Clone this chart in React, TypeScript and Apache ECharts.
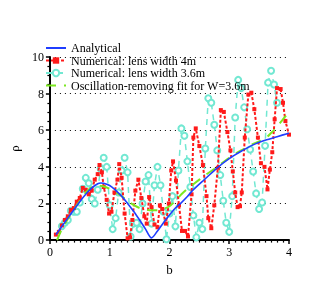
import React, { useEffect, useRef } from "react";
import * as echarts from "echarts";

const xTicks = [0, 1, 2, 3, 4];
const yTicks = [0, 2, 4, 6, 8, 10];

const analyticalB = [0.1, 0.2, 0.3, 0.4, 0.5, 0.6, 0.7, 0.8, 0.85, 0.9, 1.0, 1.1, 1.2, 1.3, 1.4, 1.5, 1.6, 1.7, 1.8, 1.9, 2.0, 2.1, 2.2, 2.3, 2.4, 2.6, 2.8, 3.0, 3.2, 3.4, 3.6, 3.8, 4.0];
const analyticalRho = [0.3, 0.75, 1.2, 1.65, 2.1, 2.5, 2.85, 3.08, 3.12, 3.1, 2.98, 2.72, 2.4, 2.0, 1.58, 1.1, 0.6, 0.12, 0.5, 0.95, 1.37, 1.75, 2.05, 2.38, 2.75, 3.35, 3.95, 4.45, 4.85, 5.2, 5.45, 5.65, 5.84];

const num4B = [0.1, 0.15, 0.2, 0.25, 0.3, 0.35, 0.4, 0.45, 0.5, 0.55, 0.6, 0.65, 0.7, 0.75, 0.8, 0.83, 0.87, 0.9, 0.95, 0.99, 1.03, 1.08, 1.13, 1.16, 1.2, 1.25, 1.3, 1.34, 1.38, 1.43, 1.48, 1.53, 1.58, 1.62, 1.66, 1.7, 1.75, 1.8, 1.84, 1.88, 1.94, 1.99, 2.03, 2.06, 2.11, 2.16, 2.21, 2.26, 2.31, 2.37, 2.4, 2.44, 2.5, 2.56, 2.62, 2.65, 2.7, 2.75, 2.81, 2.86, 2.91, 2.97, 3.02, 3.06, 3.1, 3.14, 3.18, 3.21, 3.26, 3.32, 3.37, 3.42, 3.48, 3.53, 3.59, 3.64, 3.68, 3.72, 3.76, 3.8, 3.86, 3.9, 3.94, 4.0];
const num4Rho = [0.3, 0.45, 0.8, 1.1, 1.3, 1.65, 1.75, 2.1, 2.3, 2.85, 2.75, 2.5, 2.7, 3.3, 3.6, 4.1, 3.7, 2.9, 2.2, 1.45, 1.55, 2.6, 3.3, 4.15, 3.4, 1.45, 0.1, 0.15, 1.1, 2.7, 3.3, 2.3, 1.3, 0.9, 2.35, 1.8, 0.85, 0.7, 1.9, 1.7, 0.9, 2.0, 3.8, 4.3, 3.25, 1.9, 0.5, 0.5, 0.2, 2.5, 5.6, 6.1, 5.14, 4.1, 2.4, 1.2, 0.65, 1.9, 3.95, 7.1, 7.0, 5.9, 4.9, 3.75, 2.6, 1.8, 1.85, 2.6, 5.6, 7.95, 8.05, 7.15, 5.6, 4.2, 4.0, 2.77, 3.85, 4.8, 6.6, 8.3, 8.25, 7.5, 6.5, 5.76];

const num36B = [0.2, 0.25, 0.3, 0.35, 0.4, 0.45, 0.5, 0.55, 0.6, 0.65, 0.7, 0.75, 0.8, 0.85, 0.9, 0.95, 1.0, 1.05, 1.1, 1.15, 1.2, 1.25, 1.3, 1.35, 1.4, 1.45, 1.5, 1.55, 1.6, 1.65, 1.7, 1.75, 1.8, 1.85, 1.9, 1.95, 2.0, 2.05, 2.1, 2.15, 2.2, 2.25, 2.3, 2.35, 2.4, 2.45, 2.5, 2.55, 2.6, 2.65, 2.7, 2.75, 2.8, 2.85, 2.9, 2.95, 3.0, 3.05, 3.1, 3.15, 3.2, 3.25, 3.3, 3.35, 3.4, 3.45, 3.5, 3.55, 3.6, 3.65, 3.7, 3.75, 3.8];
const num36Rho = [0.76, 0.95, 1.1, 1.6, 1.55, 1.55, 2.05, 2.8, 3.4, 3.1, 2.25, 2.0, 2.75, 3.9, 4.5, 4.0, 1.9, 0.6, 1.2, 2.6, 3.8, 4.5, 3.7, 0.2, 0.9, 0.95, 0.6, 2.0, 3.2, 3.55, 0.9, 3.0, 4.0, 3.0, 1.55, 0.05, 1.45, 2.4, 0.75, 3.8, 6.1, 5.7, 4.3, 2.9, 1.35, 0.15, 0.95, 0.6, 5.0, 7.75, 7.5, 6.3, 4.9, 3.55, 2.15, 0.95, 0.45, 2.4, 6.7, 8.75, 8.3, 7.25, 6.05, 4.95, 3.75, 2.55, 1.7, 2.05, 5.15, 8.6, 9.25, 8.5, 7.5];

const fitB = [0.12, 0.2, 0.3, 0.4, 0.5, 0.6, 0.7, 0.8, 0.9, 1.0, 1.1, 1.2, 1.3, 1.4, 1.5, 1.6, 1.7, 1.8, 1.9, 2.0, 2.1, 2.2, 2.3, 2.4, 2.6, 2.8, 3.0, 3.2, 3.4, 3.6, 3.7, 3.8, 3.9, 3.95];
const fitRho = [0.0, 0.6, 1.15, 1.65, 2.15, 2.6, 2.9, 2.97, 2.93, 2.8, 2.62, 2.4, 2.15, 1.92, 1.75, 1.68, 1.63, 1.63, 1.7, 1.85, 2.15, 2.5, 2.8, 3.05, 3.55, 4.0, 4.5, 4.9, 5.25, 5.55, 5.85, 6.2, 6.6, 6.8];

const zip = (xs: number[], ys: number[]) => xs.map((x, i) => [x, ys[i]]);

const FONT = "Liberation Serif";

export default function App() {
  const ref = useRef<HTMLDivElement>(null);
  useEffect(() => {
    if (!ref.current) return;
    const chart = echarts.init(ref.current, undefined, { renderer: "svg" });
    chart.setOption({
      animation: false,
      textStyle: { fontFamily: FONT },
      grid: { left: 41, right: 44, top: 57, bottom: 33 },
      legend: {
        orient: "vertical",
        left: 45,
        top: 42,
        itemWidth: 20,
        itemHeight: 8,
        itemGap: 0.5,
        padding: 0,
        textStyle: { fontFamily: FONT, fontSize: 12, color: "#000", lineHeight: 12 },
        data: [
          { name: "Analytical", itemStyle: { opacity: 0 } },
          { name: "Numerical: lens width 4m" },
          { name: "Numerical: lens width 3.6m" },
          { name: "Oscillation-removing fit for W=3.6m", itemStyle: { opacity: 0 } },
        ],
      },
      xAxis: {
        type: "value",
        min: xTicks[0],
        max: xTicks[xTicks.length - 1],
        interval: 1,
        name: "b",
        nameLocation: "middle",
        nameGap: 20,
        nameTextStyle: { fontFamily: FONT, fontSize: 13, color: "#000" },
        axisLine: { lineStyle: { color: "#000", width: 2 } },
        axisTick: { inside: false, length: 4, lineStyle: { color: "#000", width: 1.5 } },
        minorTick: { show: true, splitNumber: 10, length: 2.5, lineStyle: { color: "#000", width: 1.2 } },
        axisLabel: { fontFamily: FONT, fontSize: 12, color: "#000", margin: 6 },
        splitLine: { show: false },
      },
      yAxis: {
        type: "value",
        min: yTicks[0],
        max: yTicks[yTicks.length - 1],
        interval: 2,
        name: "ρ",
        nameLocation: "middle",
        nameGap: 28,
        nameTextStyle: { fontFamily: FONT, fontSize: 13, color: "#000" },
        axisLine: { show: true, lineStyle: { color: "#000", width: 2 } },
        axisTick: { show: true, inside: false, length: 4, lineStyle: { color: "#000", width: 1.5 } },
        minorTick: { show: true, splitNumber: 4, length: 2.5, lineStyle: { color: "#000", width: 1.2 } },
        axisLabel: { fontFamily: FONT, fontSize: 12, color: "#000", margin: 6 },
        splitLine: { show: true, lineStyle: { color: "#000", type: [1, 4], width: 1 } },
      },
      series: [
        {
          name: "Analytical",
          type: "line",
          data: zip(analyticalB, analyticalRho),
          symbol: "none",
          smooth: 0.3,
          z: 5,
          lineStyle: { color: "#1f3dff", width: 1.6 },
          itemStyle: { color: "#1f3dff" },
        },
        {
          name: "Numerical: lens width 4m",
          type: "line",
          data: zip(num4B, num4Rho),
          symbol: "rect",
          symbolSize: 4,
          z: 3,
          lineStyle: { color: "#ff1a1a", width: 2, type: [3, 2] },
          itemStyle: { color: "#ff1a1a" },
        },
        {
          name: "Numerical: lens width 3.6m",
          type: "line",
          data: zip(num36B, num36Rho),
          symbol: "emptyCircle",
          symbolSize: 6,
          z: 2,
          lineStyle: { color: "#72e8d2", width: 1.5, type: [6, 5] },
          itemStyle: { color: "#72e8d2", borderWidth: 1.3 },
        },
        {
          name: "Oscillation-removing fit for W=3.6m",
          type: "line",
          data: zip(fitB, fitRho),
          symbol: "none",
          smooth: 0.3,
          z: 4,
          lineStyle: { color: "#7be81f", width: 2, type: [10, 8] },
          itemStyle: { color: "#7be81f" },
        },
      ],
    });
    return () => chart.dispose();
  }, []);
  return (
    <div
      ref={ref}
      style={{ position: "fixed", left: 0, top: 0, width: 333, height: 281 }}
    />
  );
}
